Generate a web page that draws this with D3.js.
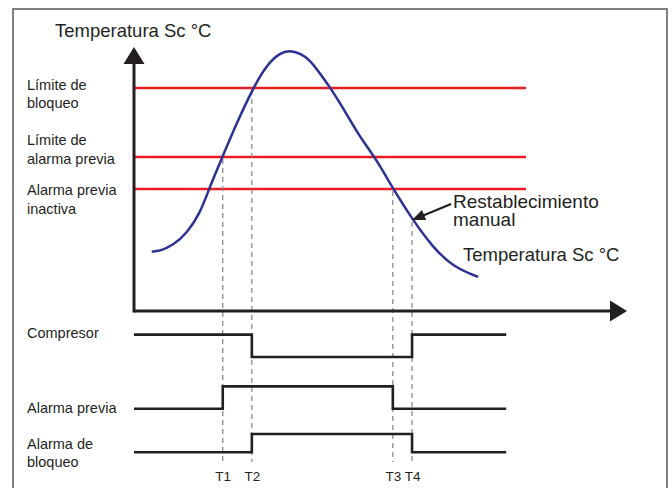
<!DOCTYPE html>
<html>
<head>
<meta charset="utf-8">
<script src="https://cdn.jsdelivr.net/npm/d3@7"></script>
<style>
  body { margin: 0; background: #fff; }
  text { font-family: "Liberation Sans", Arial, sans-serif; fill: #231f20; }
</style>
</head>
<body>
<div id="chart"></div>
<script>
// temperature curve (time units, temperature units)
const curveTime = [3.6, 5.3, 8.0, 10.7, 13.4, 15.2, 17.9, 20.8, 24.2, 26.9, 29.6, 31.6, 33.7, 35.7, 37.7, 39.8, 41.8, 43.8, 45.8, 48.9, 52.6, 56.5, 60.6, 64.7, 69.8];
const curveTemp = [22.5, 22.7, 25.0, 29.4, 37.0, 46.2, 58.2, 71.1, 84.6, 93.2, 97.8, 98.8, 97.6, 95.1, 90.0, 84.6, 78.7, 72.4, 66.0, 58.2, 46.2, 34.6, 24.2, 16.7, 12.9];

// thresholds
const limitLabels = [["Límite de", "bloqueo"], ["Límite de", "alarma previa"], ["Alarma previa", "inactiva"]];
const limitValues = [84.5, 58.3, 46.2];
const limitEnd = 79.5;

// events
const eventLabels = ["T1", "T2", "T3", "T4"];
const eventTimes = [18.0, 23.9, 52.5, 56.4];
const eventTemps = [58.3, 84.5, 46.2, 34.5];

// timing rows
const signalLabels = [["Compresor"], ["Alarma previa"], ["Alarma de", "bloqueo"]];
const signalTimes = [[0, 23.9, 56.4, 75.5], [0, 18.0, 52.5, 75.5], [0, 23.9, 56.4, 75.5]];
const signalStates = [[1, 0, 1, 1], [0, 1, 0, 0], [0, 1, 0, 0]];
const signalLow = [75, 38, 7];
const signalHigh = [91, 54, 20];

const axisTitle = "Temperatura Sc °C";
const resetLabel = ["Restablecimiento", "manual"];

// layout
const W = 672, H = 488;
const ink = "#231f20";
const limitNudge = [2, -12, 6];
const signalNudge = [3.6, 4.3, -3];

const svg = d3.select("#chart").append("svg")
    .attr("width", W)
    .attr("height", H);

// frame
svg.append("rect")
    .attr("x", 13).attr("y", 9)
    .attr("width", 654).attr("height", 490)
    .attr("fill", "none")
    .attr("stroke", "#58595b")
    .attr("stroke-width", 1.5);

const x = d3.scaleLinear().domain([0, 100]).range([134, 627]);
const y = d3.scaleLinear().domain([0, 100]).range([311, 47]);
const ySig = d3.scaleLinear().domain([0, 100]).range([462, 322]);

function multiLine(sel, lines, px, py, lh) {
    let t = sel.append("text").attr("x", px).attr("y", py);
    lines.forEach((s, i) => {
        t.append("tspan").attr("x", px).attr("dy", i === 0 ? 0 : lh).text(s);
    });
    return t;
}

// red threshold lines
svg.selectAll(".limit")
    .data(limitValues)
    .enter().append("line")
    .attr("class", "limit")
    .attr("x1", x(0)).attr("x2", x(limitEnd))
    .attr("y1", d => y(d)).attr("y2", d => y(d))
    .attr("stroke", "#ed1c24")
    .attr("stroke-width", 2.5);

limitLabels.forEach((l, i) => {
    multiLine(svg, l, 27, y(limitValues[i]) + limitNudge[i], 18.5).style("font-size", "14.5px");
});

// dashed event lines
svg.selectAll(".event")
    .data(eventTimes)
    .enter().append("line")
    .attr("class", "event")
    .attr("x1", d => x(d)).attr("x2", d => x(d))
    .attr("y1", (d, i) => y(eventTemps[i]) + 2)
    .attr("y2", ySig(0))
    .attr("stroke", "#808285")
    .attr("stroke-width", 1.2)
    .attr("stroke-dasharray", "5,4");

// temperature curve
const line = d3.line()
    .x(d => x(d[0]))
    .y(d => y(d[1]))
    .curve(d3.curveBasis);

svg.append("path")
    .datum(curveTime.map((t, i) => [t, curveTemp[i]]))
    .attr("d", line)
    .attr("fill", "none")
    .attr("stroke", "#2e3192")
    .attr("stroke-width", 2.5);

// axes with arrow heads
svg.append("line")
    .attr("x1", x(0)).attr("x2", x(0))
    .attr("y1", y(0) + 1.5).attr("y2", y(100) + 10)
    .attr("stroke", ink).attr("stroke-width", 3);
svg.append("path")
    .attr("d", `M${x(0)},${y(100)}L${x(0) + 10.5},${y(100) + 17}L${x(0) - 10.5},${y(100) + 17}Z`)
    .attr("fill", ink);

svg.append("line")
    .attr("x1", x(0)).attr("x2", x(100) - 10)
    .attr("y1", y(0)).attr("y2", y(0))
    .attr("stroke", ink).attr("stroke-width", 3);
svg.append("path")
    .attr("d", `M${x(100)},${y(0)}L${x(100) - 17},${y(0) - 10.5}L${x(100) - 17},${y(0) + 10.5}Z`)
    .attr("fill", ink);

svg.append("text")
    .attr("x", 55).attr("y", 37)
    .style("font-size", "18.5px")
    .text(axisTitle);

svg.append("text")
    .attr("x", 463).attr("y", 261)
    .style("font-size", "18.5px")
    .text(axisTitle);

// manual reset annotation
const tipX = x(eventTimes[3]), tipY = y(eventTemps[3]);
svg.append("line")
    .attr("x1", tipX + 39).attr("y1", tipY - 16)
    .attr("x2", tipX + 10).attr("y2", tipY - 4)
    .attr("stroke", ink).attr("stroke-width", 2.2);
svg.append("path")
    .attr("d", () => {
        const a = Math.atan2(-16, 39);
        const len = 13, hw = 5.5;
        const bx = tipX + len * Math.cos(a), by = tipY + len * Math.sin(a);
        const nx = -Math.sin(a), ny = Math.cos(a);
        return `M${tipX},${tipY}L${bx + nx * hw},${by + ny * hw}L${bx - nx * hw},${by - ny * hw}Z`;
    })
    .attr("fill", ink);
multiLine(svg, resetLabel, tipX + 41, tipY - 12, 18).style("font-size", "19px");

// timing diagram
const step = d3.line()
    .x(d => x(d[0]))
    .y(d => d[1])
    .curve(d3.curveStepAfter);

signalTimes.forEach((times, i) => {
    const pts = times.map((t, j) => [t, ySig(signalStates[i][j] ? signalHigh[i] : signalLow[i])]);
    svg.append("path")
        .attr("d", step(pts))
        .attr("fill", "none")
        .attr("stroke", ink)
        .attr("stroke-width", 2.6);
    const y0 = ySig(signalStates[i][0] ? signalHigh[i] : signalLow[i]);
    multiLine(svg, signalLabels[i], 27, y0 + signalNudge[i], 18).style("font-size", "14.5px");
});

// event tick labels
const xAxis = d3.axisBottom(x)
    .tickValues(eventTimes)
    .tickFormat((d, i) => eventLabels[i])
    .tickSize(0)
    .tickPadding(9.5);

const gx = svg.append("g")
    .attr("transform", `translate(0,${ySig(0)})`)
    .call(xAxis);
gx.select(".domain").remove();
gx.selectAll("text")
    .style("font-family", "'Liberation Sans', Arial, sans-serif")
    .style("font-size", "13.5px")
    .attr("fill", ink);
</script>
</body>
</html>
